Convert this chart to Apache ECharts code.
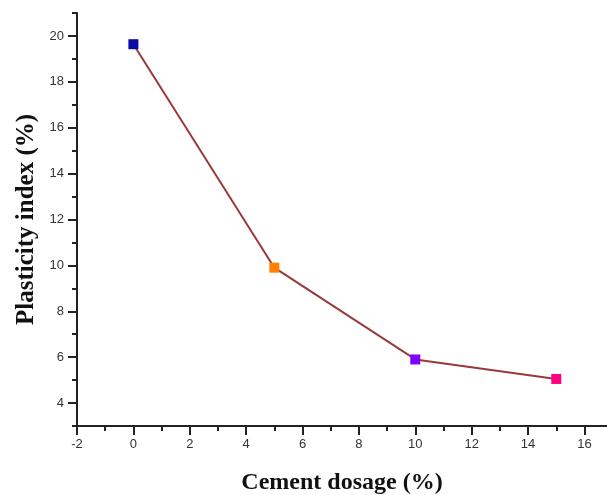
<!DOCTYPE html>
<html>
<head>
<meta charset="utf-8">
<script src="https://cdn.jsdelivr.net/npm/echarts@6/dist/echarts.min.js"></script>
<style>html,body{margin:0;padding:0;background:#fff}#c{width:607px;height:495px}</style>
</head>
<body>
<div id="c"></div>
<script>
var cementDosage = [0, 5, 10, 15];
var plasticityIndex = [19.64, 9.9, 5.9, 5.05];
var pointColors = ['#0a0aa5', '#ff8000', '#8000ff', '#ff0080'];
var xMajorTicks = [-2, 0, 2, 4, 6, 8, 10, 12, 14, 16];
var xMinorTicks = [-1, 1, 3, 5, 7, 9, 11, 13, 15];
var yMajorTicks = [4, 6, 8, 10, 12, 14, 16, 18, 20];
var yMinorTicks = [3, 5, 7, 9, 11, 13, 15, 17, 19, 21];

var data = cementDosage.map(function (x, i) {
  return { value: [x, plasticityIndex[i]], itemStyle: { color: pointColors[i] } };
});

var axisLineStyle = { color: '#222', width: 2 };
var xNameStyle = { color: '#111', fontSize: 24, fontWeight: 'bold', fontFamily: 'Liberation Serif' };
var yNameStyle = { color: '#111', fontSize: 25, fontWeight: 'bold', fontFamily: 'Liberation Serif' };

var chart = echarts.init(document.getElementById('c'));
chart.setOption({
  animation: false,
  grid: { left: 77, top: 13, right: 0, height: 413, containLabel: false, outerBoundsMode: 'none' },
  xAxis: [{
    type: 'value', min: -2, max: 16.8, position: 'bottom',
    name: 'Cement dosage (%)', nameLocation: 'middle', nameGap: 45, nameTextStyle: xNameStyle,
    axisLine: { show: true, onZero: false, lineStyle: axisLineStyle },
    axisTick: { show: true, customValues: xMajorTicks, length: 9, lineStyle: { color: '#222', width: 2 } },
    axisLabel: { customValues: xMajorTicks, margin: 12, color: '#333', fontSize: 13, fontFamily: 'Liberation Sans' },
    splitLine: { show: false }
  }, {
    type: 'value', min: -2, max: 16.8, position: 'bottom', gridIndex: 0,
    axisLine: { show: false, onZero: false },
    axisTick: { show: true, customValues: xMinorTicks, length: 5, lineStyle: { color: '#222', width: 2 } },
    axisLabel: { show: false },
    splitLine: { show: false }
  }],
  yAxis: [{
    type: 'value', min: 3, max: 21, position: 'left',
    name: 'Plasticity index (%)', nameLocation: 'middle', nameGap: 36, nameTextStyle: yNameStyle,
    axisLine: { show: true, onZero: false, lineStyle: axisLineStyle },
    axisTick: { show: true, customValues: yMajorTicks, length: 9, lineStyle: { color: '#222', width: 2 } },
    axisLabel: { customValues: yMajorTicks, margin: 13, color: '#333', fontSize: 13, fontFamily: 'Liberation Sans' },
    splitLine: { show: false }
  }, {
    type: 'value', min: 3, max: 21, position: 'left',
    axisLine: { show: false, onZero: false },
    axisTick: { show: true, customValues: yMinorTicks, length: 5, lineStyle: { color: '#222', width: 2 } },
    axisLabel: { show: false },
    splitLine: { show: false }
  }],
  series: [{
    type: 'line', xAxisIndex: 0, yAxisIndex: 0,
    data: data,
    symbol: 'rect', symbolSize: 10,
    lineStyle: { color: '#993a3a', width: 2 },
    z: 3
  }]
});
</script>
</body>
</html>
